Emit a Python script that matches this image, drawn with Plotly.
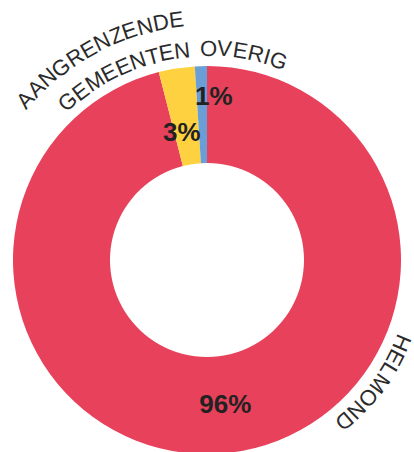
import math
import plotly.graph_objects as go

# ---- data ----
categories = ["HELMOND", "AANGRENZENDE GEMEENTEN", "OVERIG"]
values = [96, 3, 1]
colors = ["#E8415B", "#FDD13F", "#6A9ED6"]
label_lines = [["HELMOND"], ["AANGRENZENDE", "GEMEENTEN"], ["OVERIG"]]

# ---- geometry / style ----
W, H = 414, 454            # layout slightly taller than window: ring is cut at the bottom
CX, CY = 207, 260          # donut centre in px (from top-left)
R_OUT = 194
FONT = "Liberation Sans, Arial, sans-serif"
LABEL_SIZE = 22
LABEL_COLOR = "#2b2b2b"
PCT_COLOR = "#222222"

# Arial / Liberation Sans advance widths (em/1000)
ADV = {"A": 667, "B": 667, "C": 722, "D": 722, "E": 667, "F": 611, "G": 778,
       "H": 722, "I": 278, "L": 556, "M": 833, "N": 722, "O": 778, "R": 722,
       "T": 611, "V": 667, "Z": 611, " ": 278}

# per line: (radius of letter centre, angle of string centre in clock degrees)
label_place = {
    "HELMOND": (212.0, 126.3),
    "AANGRENZENDE": (242, -27.9),
    "GEMEENTEN": (211, -24.1),
    "OVERIG": (212, 10.0),
}

fig = go.Figure(go.Pie(
    labels=categories,
    values=values,
    sort=False,
    direction="clockwise",
    rotation=0,
    hole=0.5,
    marker=dict(colors=colors, line=dict(width=0)),
    texttemplate=["%{percent:.0%}", "", ""],
    textposition="inside",
    insidetextorientation="horizontal",
    textfont=dict(family=FONT, size=26, color=PCT_COLOR, weight="bold"),
    domain=dict(x=[0, 1], y=[0, 2 * R_OUT / H]),
    showlegend=False,
    hoverinfo="label+percent",
))

annotations = []


def px_to_paper(px, py):
    return px / W, 1 - py / H


def place_line(text, rc, center_deg, size):
    rb = rc - 0.358 * size
    widths = [ADV[c] / 1000 * size for c in text]
    total = sum(widths)
    start = math.radians(center_deg) - (total / rb) / 2
    s = 0
    for c, w in zip(text, widths):
        a = start + (s + w / 2) / rb
        s += w
        if c == " ":
            continue
        x, y = px_to_paper(CX + rc * math.sin(a), CY - rc * math.cos(a))
        annotations.append(dict(
            x=x, y=y, xref="paper", yref="paper", text=c, showarrow=False,
            xanchor="center", yanchor="middle", textangle=math.degrees(a),
            borderpad=0,
            font=dict(family=FONT, size=size, color=LABEL_COLOR)))


for lines in label_lines:
    for line in lines:
        rc, ang = label_place[line]
        place_line(line, rc, ang, LABEL_SIZE)

# small-slice percentage labels, positioned from slice mid angles
total_v = sum(values)
pct_place = {1: (130, -5), 2: (164, 12)}   # index: (radius, x nudge px)
cum = 0
for i, v in enumerate(values):
    mid = (cum + v / 2) / total_v * 2 * math.pi
    cum += v
    if i in pct_place:
        r, dx = pct_place[i]
        x, y = px_to_paper(CX + r * math.sin(mid) + dx, CY - r * math.cos(mid))
        annotations.append(dict(
            x=x, y=y, xref="paper", yref="paper",
            text=f"{round(v / total_v * 100)}%", showarrow=False,
            xanchor="center", yanchor="middle",
            font=dict(family=FONT, size=26, color=PCT_COLOR, weight="bold")))

fig.update_layout(
    width=W, height=H,
    margin=dict(l=0, r=0, t=0, b=0),
    paper_bgcolor="white",
    plot_bgcolor="white",
    annotations=annotations,
)

fig.write_html(
    "out.html",
    config={"displayModeBar": False},
    post_script="document.body.style.margin='0';document.body.style.overflow='hidden';",
)
